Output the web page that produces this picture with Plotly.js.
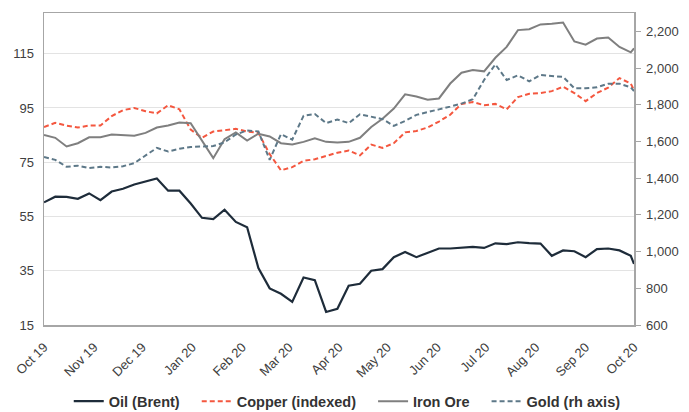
<!DOCTYPE html>
<html>
<head>
<meta charset="utf-8">
<script src="https://cdn.plot.ly/plotly-3.0.1.min.js"></script>
<style>
  html, body { margin: 0; padding: 0; background: #fff; }
  #chartContainer { width: 689px; height: 412px; }
</style>
</head>
<body>
<div id="chartContainer"></div>
<script>
// weekly readings, Oct 19 - Oct 20
var dates = [
    '2019-10-01', '2019-10-08', '2019-10-15', '2019-10-22', '2019-10-29',
    '2019-11-05', '2019-11-12', '2019-11-19', '2019-11-26',
    '2019-12-03', '2019-12-10', '2019-12-17', '2019-12-24', '2019-12-31',
    '2020-01-07', '2020-01-14', '2020-01-21', '2020-01-28',
    '2020-02-04', '2020-02-11', '2020-02-18', '2020-02-25',
    '2020-03-03', '2020-03-10', '2020-03-17', '2020-03-24', '2020-03-31',
    '2020-04-07', '2020-04-14', '2020-04-21', '2020-04-28',
    '2020-05-05', '2020-05-12', '2020-05-19', '2020-05-26',
    '2020-06-02', '2020-06-09', '2020-06-16', '2020-06-23', '2020-06-30',
    '2020-07-07', '2020-07-14', '2020-07-21', '2020-07-28',
    '2020-08-04', '2020-08-11', '2020-08-18', '2020-08-25',
    '2020-09-01', '2020-09-08', '2020-09-15', '2020-09-22', '2020-09-29',
    '2020-10-01'
];

var oilBrent = [
    60.2, 62.3, 62.2, 61.5, 63.5, 61.0, 64.2, 65.2, 66.8,
    67.8, 69.0, 64.5, 64.5, 59.8,
    54.5, 54.0, 57.5, 53.0,
    51.0, 36.0, 28.5, 26.5,
    23.5, 32.5, 31.5, 19.8, 21.0,
    29.5, 30.2, 35.0, 35.6,
    40.0, 41.9, 40.0, 41.5,
    43.2, 43.2, 43.5, 43.8, 43.4,
    45.1, 44.8, 45.5, 45.2,
    45.0, 40.5, 42.5, 42.2,
    40.0, 43.0, 43.2, 42.5, 40.5,
    37.5
];

var copperIndexed = [
    88.0, 89.5, 88.5, 87.8, 88.5, 88.5, 92.0, 94.2, 95.0,
    93.8, 93.0, 96.0, 94.5, 87.0,
    84.0, 86.3, 86.8, 87.3,
    86.3, 85.8, 78.0, 72.0,
    73.2, 75.5, 76.1, 77.3, 78.5,
    79.3, 77.5, 81.5, 80.3,
    82.0, 86.0, 86.5, 87.8,
    90.0, 92.5, 96.5, 97.2, 96.0,
    96.5, 94.5, 99.0, 100.2,
    100.5, 101.2, 102.8, 100.5,
    97.5, 100.5, 102.5, 106.0, 104.0,
    101.5
];

var ironOre = [
    85.0, 84.0, 80.8, 82.0, 84.2, 84.2, 85.2, 85.0, 84.8,
    85.8, 87.8, 88.5, 89.6, 89.4,
    83.0, 76.5, 83.5, 86.0,
    83.0, 85.5, 84.5, 82.0,
    81.5, 82.5, 83.8, 82.5, 82.3,
    82.5, 84.0, 88.0, 91.0,
    94.8, 100.0, 99.2, 98.0,
    98.5, 104.0, 108.0, 109.0, 108.5,
    113.5, 117.5, 123.7, 124.0,
    125.8, 126.0, 126.5, 119.5,
    118.3, 120.6, 121.0, 117.5, 115.5,
    117.0
];

var goldRh = [
    1515, 1500, 1462, 1468, 1455, 1462, 1458, 1465, 1482,
    1525, 1565, 1545, 1560, 1570,
    1572, 1575, 1595, 1638,
    1660, 1655, 1500, 1640,
    1610, 1740, 1750, 1700, 1720,
    1700, 1748, 1735, 1722,
    1685, 1712, 1745, 1762,
    1775, 1790, 1806, 1830, 1935,
    2020, 1935, 1960, 1928,
    1962, 1955, 1952, 1890,
    1890, 1895, 1915, 1915, 1895,
    1875
];

var seriesNames = ['Oil (Brent)', 'Copper (indexed)', 'Iron Ore', 'Gold (rh axis)'];

var fontFamily = '"Liberation Sans", Arial, sans-serif';

// plotly has no gap setting for horizontal legends, so pad with nbsp
var pad = '\u00a0\u00a0\u00a0';

var traceOil = {
    x: dates,
    y: oilBrent,
    name: seriesNames[0] + pad,
    type: 'scatter',
    mode: 'lines',
    line: {color: '#1e2c3a', width: 2.2}
};

var traceCopper = {
    x: dates,
    y: copperIndexed,
    name: seriesNames[1] + pad,
    type: 'scatter',
    mode: 'lines',
    line: {color: '#f4573f', width: 2, dash: '5px,3px'}
};

var traceIron = {
    x: dates,
    y: ironOre,
    name: seriesNames[2] + pad,
    type: 'scatter',
    mode: 'lines',
    line: {color: '#7f7f7f', width: 2}
};

var traceGold = {
    x: dates,
    y: goldRh,
    name: seriesNames[3],
    type: 'scatter',
    mode: 'lines',
    yaxis: 'y2',
    line: {color: '#5d7888', width: 2, dash: '5px,3px'}
};

var data = [traceOil, traceCopper, traceIron, traceGold];

var layout = {
    width: 689,
    height: 412,
    margin: {l: 44, r: 55, t: 13, b: 87},
    paper_bgcolor: '#ffffff',
    plot_bgcolor: '#ffffff',
    font: {family: fontFamily, size: 13, color: '#404040'},
    showlegend: true,
    legend: {
        orientation: 'h',
        xref: 'container',
        yref: 'container',
        x: 0.504,
        xanchor: 'center',
        y: 0.026,
        yanchor: 'middle',
        borderwidth: 0,
        bgcolor: 'rgba(0,0,0,0)',
        font: {family: fontFamily, size: 14.5, color: '#333333', weight: 'bold'}
    },
    xaxis: {
        type: 'date',
        range: ['2019-10-01', '2020-10-01'],
        tick0: '2019-10-01',
        dtick: 'M1',
        tickformat: '%b %y',
        tickangle: -45,
        ticks: '',
        ticklabelstandoff: 8,
        automargin: false,
        showgrid: false,
        zeroline: false,
        showline: true,
        mirror: true,
        linecolor: '#a6a6a6',
        linewidth: 1.5,
        tickfont: {size: 13, color: '#404040'}
    },
    yaxis: {
        range: [15, 130],
        tick0: 15,
        dtick: 20,
        ticks: '',
        automargin: false,
        showgrid: true,
        gridcolor: '#e3e3e3',
        gridwidth: 1,
        zeroline: false,
        showline: true,
        linecolor: '#a6a6a6',
        linewidth: 1.5,
        ticklabelstandoff: 6,
        tickfont: {size: 13, color: '#404040'}
    },
    yaxis2: {
        overlaying: 'y',
        side: 'right',
        range: [600, 2300],
        tick0: 600,
        dtick: 200,
        tickformat: ',',
        ticks: 'outside',
        ticklen: 5,
        tickcolor: '#a6a6a6',
        automargin: false,
        showgrid: false,
        zeroline: false,
        showline: true,
        linecolor: '#a6a6a6',
        linewidth: 1.5,
        ticklabelstandoff: 3,
        tickfont: {size: 13, color: '#404040'}
    }
};

Plotly.newPlot('chartContainer', data, layout, {staticPlot: true, displayModeBar: false});
</script>
</body>
</html>
